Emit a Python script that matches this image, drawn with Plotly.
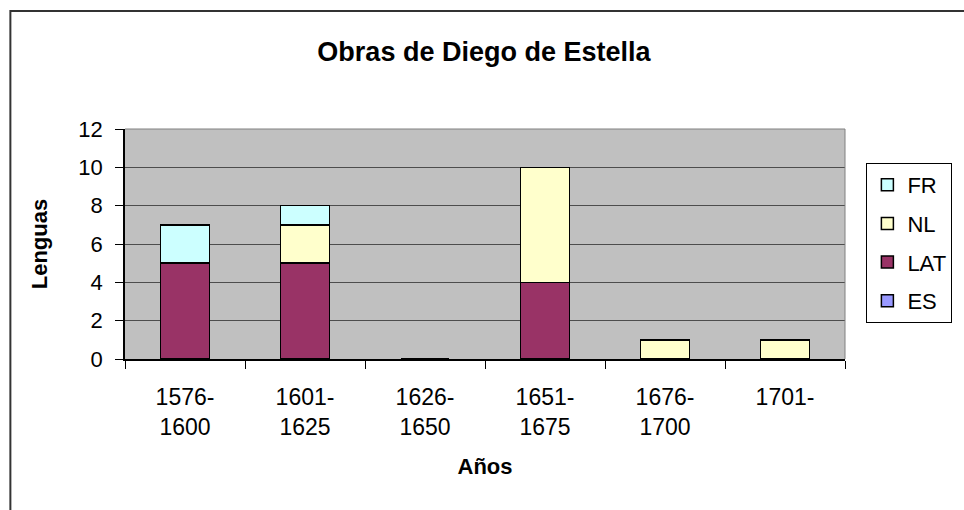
import plotly.graph_objects as go

# periods (x categories) and stacked series, bottom to top
PERIODS = ["1576-1600", "1601-1625", "1626-1650", "1651-1675", "1676-1700", "1701-"]
PERIOD_LABELS = ["1576-<br>1600", "1601-<br>1625", "1626-<br>1650",
                 "1651-<br>1675", "1676-<br>1700", "1701-"]
ES = [0, 0, 0, 0, 0, 0]
LAT = [5, 5, 0, 4, 0, 0]
NL = [0, 2, 0, 6, 1, 1]
FR = [2, 1, 0, 0, 0, 0]

SERIES = [("ES", ES, "#9999FF"), ("LAT", LAT, "#993366"),
          ("NL", NL, "#FFFFCC"), ("FR", FR, "#CCFFFF")]

FONT = "Liberation Sans, Arial, sans-serif"

fig = go.Figure()
for i, (name, vals, color) in enumerate(SERIES):
    fig.add_trace(go.Bar(
        x=PERIODS, y=vals, name=name,
        marker={"color": color, "line": {"color": "#000000", "width": 1.5}},
        legendgroup=name, legendrank=len(SERIES) - i,
    ))

fig.update_layout(
    width=964, height=510,
    barmode="stack", bargap=0.595,
    paper_bgcolor="#ffffff", plot_bgcolor="#C0C0C0",
    margin={"l": 125, "r": 98, "t": 129, "b": 151},
    font={"family": FONT, "size": 22, "color": "#000000"},
    title={"text": "<b>Obras de Diego de Estella</b>", "x": 0.502, "xanchor": "center",
           "y": 0.898, "yanchor": "middle", "font": {"size": 27}},
    legend={"x": 1.0297, "y": 0.852, "xanchor": "left", "yanchor": "top",
            "bordercolor": "#000000", "borderwidth": 1, "bgcolor": "#ffffff",
            "traceorder": "grouped", "tracegroupgap": 7,
            "font": {"size": 22}},
    showlegend=True,
)

# axis lines sit above the bars, so a 2px line also hides the empty stacks
fig.update_xaxes(
    type="category", tickvals=PERIODS, ticktext=PERIOD_LABELS,
    showline=True, linecolor="#000000", linewidth=2,
    ticks="outside", tickson="boundaries", ticklen=8, tickcolor="#000000",
    ticklabelstandoff=16, tickfont={"size": 23},
    title={"text": "<b>Años</b>", "standoff": 20, "font": {"size": 22}},
    showgrid=False, fixedrange=True,
)
fig.update_yaxes(
    range=[0, 12], dtick=2,
    showline=True, linecolor="#000000", linewidth=1.5,
    ticks="outside", ticklen=8, tickcolor="#000000",
    ticklabelstandoff=8,
    showgrid=True, gridcolor="#4d4d4d", gridwidth=1,
    zeroline=False, fixedrange=True,
    title={"text": "<b>Lenguas</b>", "standoff": 25, "font": {"size": 22}},
)

# plot area frame (top / right) and chart border
fig.add_shape(type="line", xref="paper", yref="paper", x0=0, x1=1, y0=1, y1=1,
              line={"color": "#808080", "width": 1})
fig.add_shape(type="line", xref="paper", yref="paper", x0=1, x1=1, y0=0, y1=1,
              line={"color": "#808080", "width": 1})
fig.add_shape(type="rect", xref="paper", yref="paper", x0=-0.1592, x1=1.5,
              y0=-1.0, y1=1.513, line={"color": "#333333", "width": 2})

fig.write_html(
    "out.html",
    config={"displayModeBar": False},
    post_script="document.body.style.margin='0';document.body.style.overflow='hidden';",
)
